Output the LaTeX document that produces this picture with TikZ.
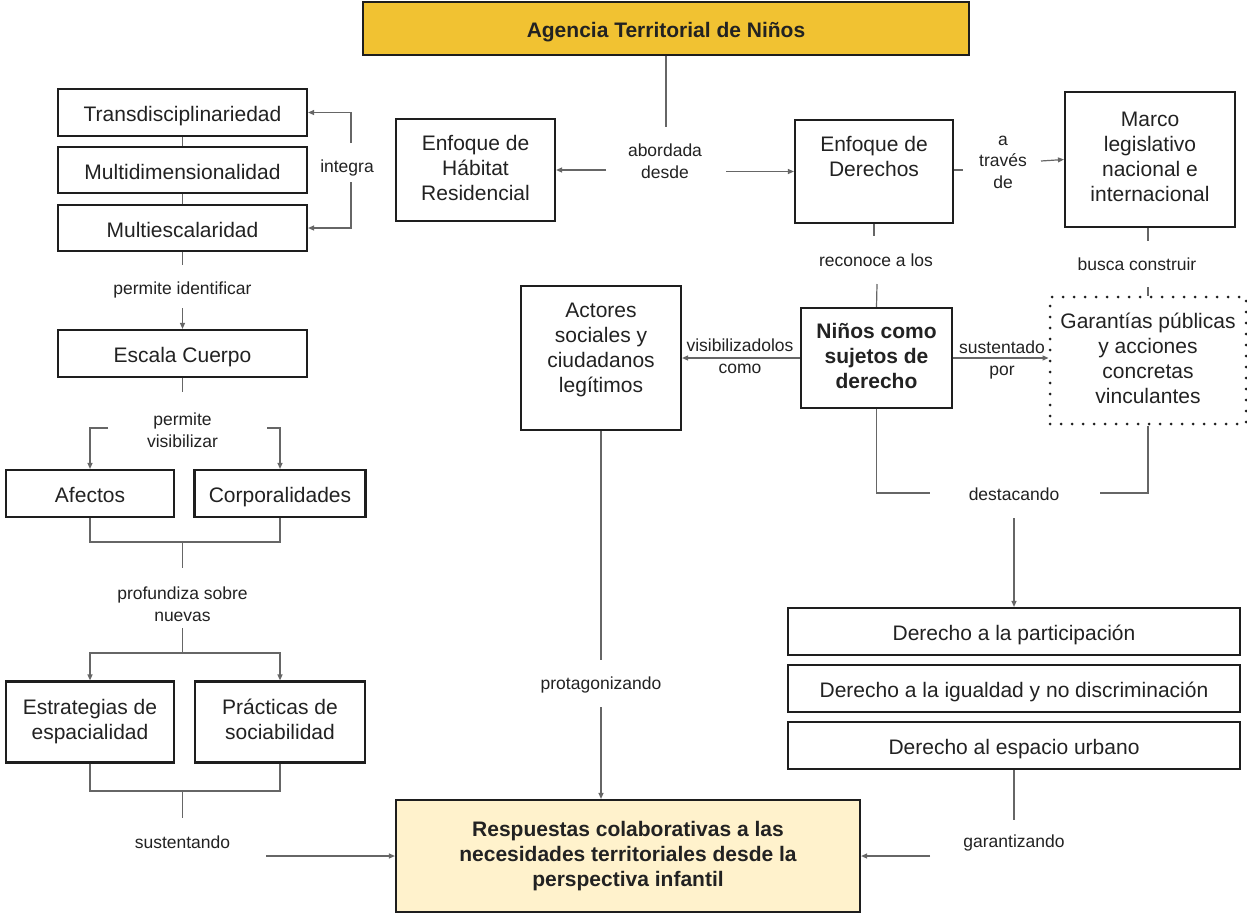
\documentclass[tikz,border=0pt]{standalone}
\usepackage{fontspec}
\setmainfont{Liberation Sans}
\usetikzlibrary{arrows.meta}
\definecolor{boxc}{HTML}{1E1E1E}
\definecolor{linec}{HTML}{666666}
\definecolor{txtc}{HTML}{222222}
\definecolor{gold}{HTML}{F1C232}
\definecolor{cream}{HTML}{FFF2CC}
\newcommand\bxfont{\fontsize{21}{25}\selectfont}
\newcommand\lbfont{\fontsize{17.5}{21.5}\selectfont}
\newcommand\topstrut{\rule{0pt}{22.6pt}}
\newcommand\botstrut{\rule[-4.6pt]{0pt}{4.6pt}}
\tikzset{
  evenv/.style={execute at begin node=\topstrut, execute at end node=\botstrut},
  box/.style={draw=boxc, line width=2.2pt, inner sep=2pt, align=center, font=\bxfont, text=txtc, evenv},
  btxt/.style={align=center, font=\bxfont, text=txtc, inner sep=0pt, evenv},
  dotbox/.style={draw=boxc, line width=3pt, line cap=round, dash pattern=on 0pt off 11pt, inner sep=2pt, align=center, font=\bxfont, text=txtc, evenv},
  lbl/.style={align=center, font=\lbfont, text=txtc, inner sep=1pt},
  con/.style={draw=linec, line width=1.2pt},
  arr/.style={con, -{Triangle[length=6pt,width=5pt]}},
}
\begin{document}
\begin{tikzpicture}[x=1pt,y=-1pt]
\useasboundingbox[fill=white] (0,0) rectangle (1247,914);

% ---- boxes ----
\node[box, fill=gold, font=\bxfont\bfseries, minimum width=606pt, minimum height=53pt] (title) at (666,28.5) {Agencia Territorial de Niños};

\node[box, minimum width=249pt, minimum height=47pt] (trans) at (182.5,112.5) {Transdisciplinariedad};
\node[box, minimum width=249pt, minimum height=46pt] (multid) at (182.5,170) {Multidimensionalidad};
\node[box, minimum width=249pt, minimum height=46pt] (multie) at (182.5,228) {Multiescalaridad};
\node[box, minimum width=249pt, minimum height=47pt] (escala) at (182.5,353.5) {Escala Cuerpo};
\node[box, minimum width=168pt, minimum height=47pt] (afectos) at (90,493.5) {Afectos};
\node[box, minimum width=171pt, minimum height=47pt] (corpor) at (280,493.5) {Corporalidades};
\node[box, minimum width=168pt, minimum height=81pt] (estr) at (90,722) {Estrategias de\\espacialidad};
\node[box, minimum width=170pt, minimum height=81pt] (pract) at (280,722) {Prácticas de\\sociabilidad};

\node[box, minimum width=159pt, minimum height=102pt] (habitat) at (475.5,170) {Enfoque de\\Hábitat\\Residencial};
\node[box, minimum width=158pt, minimum height=103pt] (derechos) at (874,171.5) {Enfoque de\\Derechos\\~};
\node[box, minimum width=170pt, minimum height=135pt] (marco) at (1150,159.5) {Marco\\legislativo\\nacional e\\internacional};

\node[box, minimum width=160pt, minimum height=144pt] (actores) at (601,358) {};
\node[btxt] (actorestxt) at (601,350.5) {Actores\\sociales y\\ciudadanos\\legítimos};
\node[box, font=\bxfont\bfseries, minimum width=151pt, minimum height=100pt] (ninos) at (876.5,358) {Niños como\\sujetos de\\derecho};
\node[dotbox, minimum width=196pt, minimum height=127pt] (garant) at (1148,360.5) {Garantías públicas\\y acciones\\concretas\\vinculantes};

\node[box, minimum width=452pt, minimum height=47pt] (dpart) at (1014,631.5) {Derecho a la participación};
\node[box, minimum width=452pt, minimum height=47pt] (digual) at (1014,688.5) {Derecho a la igualdad y no discriminación};
\node[box, minimum width=452pt, minimum height=47pt] (desp) at (1014,745.5) {Derecho al espacio urbano};

\node[box, fill=cream, font=\bxfont\bfseries, minimum width=464pt, minimum height=112pt] (resp) at (628,856) {Respuestas colaborativas a las\\necesidades territoriales desde la\\perspectiva infantil};

% ---- labels ----
\node[lbl] (integra) at (347,168) {integra};
\node[lbl] (abordada) at (665,161) {abordada\\desde};
\node[lbl] (atraves) at (1003,162) {a\\través\\de};
\node[lbl] (reconoce) at (876,260) {reconoce a los};
\node[lbl] (busca) at (1137,264) {busca construir};
\node[lbl] (visib) at (740,356) {visibilizadolos\\como};
\node[lbl] (sustpor) at (1002,360) {sustentado\\por};
\node[lbl] (destac) at (1014,494) {destacando};
\node[lbl] (protag) at (601,685) {protagonizando};
\node[lbl] (garantiz) at (1014,843) {garantizando};
\node[lbl] (pident) at (182.5,290) {permite identificar};
\node[lbl] (pvisib) at (182.5,430) {permite\\visibilizar};
\node[lbl] (profund) at (182.5,604) {profundiza sobre\\nuevas};
\node[lbl] (sustent) at (182.5,842) {sustentando};

% ---- free connector ends ----
\coordinate (iT) at (351,143);
\coordinate (iB) at (351,182);
\coordinate (abT) at (666,127);
\coordinate (abL) at (606,170);
\coordinate (abR) at (726,171.5);
\coordinate (atA) at (963,170);
\coordinate (atB) at (1041,161);
\coordinate (recT) at (874,236);
\coordinate (recB) at (877,284);
\coordinate (busT) at (1148,241);
\coordinate (busB) at (1148,287);
\coordinate (dsL) at (930,493);
\coordinate (dsR) at (1100,493);
\coordinate (dsB) at (1014,518);
\coordinate (garT) at (1014,820);
\coordinate (garL) at (930,856);
\coordinate (protT) at (601,660);
\coordinate (protB) at (601,707);
\coordinate (piT) at (182.5,265);
\coordinate (piB) at (182.5,308);
\coordinate (pvT) at (182.5,392);
\coordinate (pvL) at (108,428);
\coordinate (pvR) at (267,428);
\coordinate (brk1) at (182.5,542);
\coordinate (pfT) at (182.5,568);
\coordinate (pfB) at (182.5,628);
\coordinate (brk2) at (182.5,653);
\coordinate (brk3) at (182.5,791);
\coordinate (susT) at (182.5,818);
\coordinate (susR) at (266,856);

% ---- connectors ----
\draw[con] (trans.south) -- (multid.north);
\draw[con] (multid.south) -- (multie.north);
\draw[arr] (iT) |- (trans.east);
\draw[arr] (iB) |- (multie.east);

\draw[con] (title.south) -- (abT);
\draw[arr] (abL) -- (habitat.east);
\draw[arr] (abR) -- (derechos.west);
\draw[con] (derechos.east |- atA) -- (atA);
\draw[arr] (atB) -- (marco.west);
\draw[con] (derechos.south) -- (recT);
\draw[con] (recB) -- (ninos.north);
\draw[con] (marco.south -| busT) -- (busT);
\draw[con] (busB) -- (garant.north);

\draw[arr] (ninos.west) -- (actores.east);
\draw[arr] (ninos.east) -- (ninos.east -| garant.west);
\draw[con] (ninos.south) |- (dsL);
\draw[con] (garant.south) |- (dsR);
\draw[arr] (dsB) -- (dpart.north);

\draw[con] (desp.south) -- (garT);
\draw[arr] (garL) -- (resp.east);
\draw[con] (actores.south) -- (protT);
\draw[arr] (protB) -- (protB |- resp.north);

\draw[con] (multie.south) -- (piT);
\draw[arr] (piB) -- (escala.north);
\draw[con] (escala.south) -- (pvT);
\draw[arr] (pvL) -| (afectos.north);
\draw[arr] (pvR) -| (corpor.north);
\draw[con] (afectos.south) -- (afectos.south |- brk1) -- (corpor.south |- brk1) -- (corpor.south);
\draw[con] (brk1) -- (pfT);
\draw[con] (pfB) -- (brk2);
\draw[arr] (brk2) -| (estr.north);
\draw[arr] (brk2) -| (pract.north);
\draw[con] (estr.south) -- (estr.south |- brk3) -- (pract.south |- brk3) -- (pract.south);
\draw[con] (brk3) -- (susT);
\draw[arr] (susR) -- (resp.west);
\end{tikzpicture}
\end{document}
